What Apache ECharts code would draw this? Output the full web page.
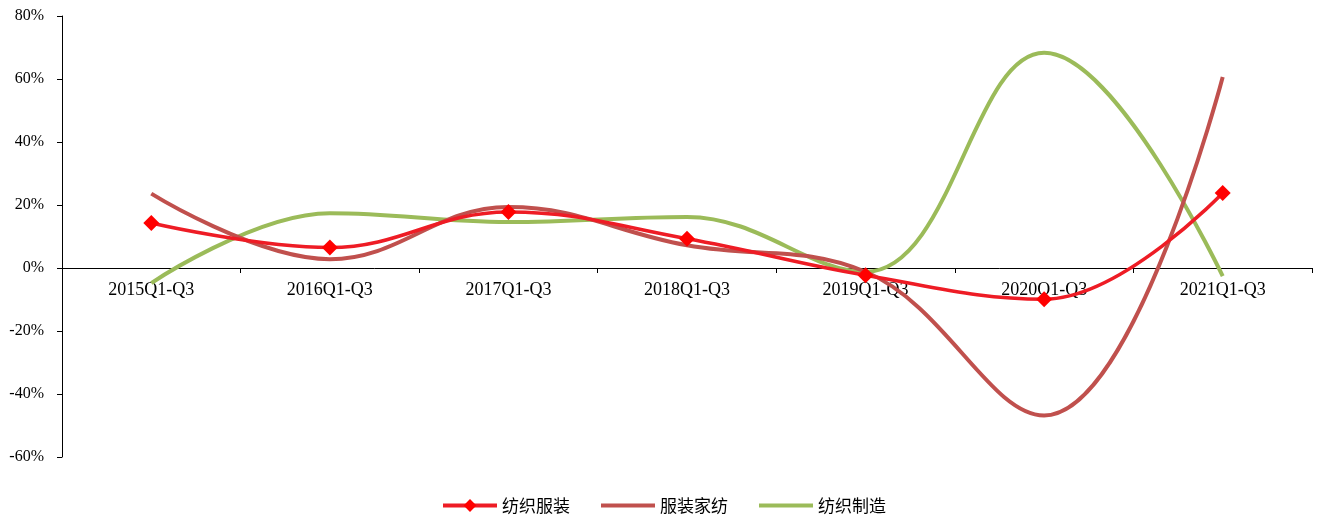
<!DOCTYPE html>
<html>
<head>
<meta charset="utf-8">
<script src="https://cdn.jsdelivr.net/npm/echarts@6/dist/echarts.min.js"></script>
<style>
  html, body { margin: 0; padding: 0; background: #ffffff; }
  #chart { width: 1327px; height: 516px; }
</style>
</head>
<body>
<div id="chart"></div>
<script>
// Periods on the category axis
const periods = ['2015Q1-Q3', '2016Q1-Q3', '2017Q1-Q3', '2018Q1-Q3', '2019Q1-Q3', '2020Q1-Q3', '2021Q1-Q3'];

// Growth rates, percent
const textileApparel = [14.3, 6.5, 17.8, 9.3, -2.3, -9.9, 23.8];
const apparelHomeTextile = [23.6, 2.8, 19.4, 7.2, -1.2, -46.8, 60.6];
const textileManufacturing = [-4.8, 17.4, 14.6, 16.2, -1.2, 68.3, -2.6];

// Y axis range and step
const yMin = -60, yMax = 80, yStep = 20;

const gridTop = 16, gridBottom = 59, chartHeight = 516;
const plotHeight = chartHeight - gridTop - gridBottom;
// Lift the category axis (line, ticks and labels) up to the zero line
const zeroOffset = -plotHeight * (0 - yMin) / (yMax - yMin);

const chart = echarts.init(document.getElementById('chart'));

const serifFont = '"Liberation Serif", "Times New Roman", serif';
const legendFont = '"Noto Sans CJK SC", sans-serif';

chart.setOption({
  animation: false,
  backgroundColor: '#ffffff',
  grid: { left: 62, right: 15, top: gridTop, bottom: gridBottom, containLabel: false },
  legend: {
    bottom: -3,
    left: 'center',
    itemWidth: 54,
    itemHeight: 16,
    itemGap: 29,
    lineStyle: { width: 4 },
    textStyle: { fontFamily: legendFont, fontSize: 17, color: '#000' },
    data: [
      { name: '纺织服装' },
      { name: '服装家纺', itemStyle: { opacity: 0 } },
      { name: '纺织制造', itemStyle: { opacity: 0 } }
    ]
  },
  xAxis: {
    type: 'category',
    data: periods,
    boundaryGap: true,
    position: 'bottom',
    offset: zeroOffset,
    axisLine: { onZero: false, lineStyle: { color: '#000', width: 1 } },
    axisTick: { show: true, inside: false, length: 5, alignWithLabel: false, lineStyle: { color: '#000' } },
    axisLabel: { color: '#000', fontFamily: serifFont, fontSize: 18, margin: 13 },
    splitLine: { show: false }
  },
  yAxis: {
    type: 'value',
    min: yMin,
    max: yMax,
    interval: yStep,
    axisLine: { show: true, lineStyle: { color: '#000', width: 1 } },
    axisTick: { show: true, inside: false, length: 5, lineStyle: { color: '#000' } },
    axisLabel: { color: '#000', fontFamily: serifFont, fontSize: 16, margin: 18, formatter: '{value}%' },
    splitLine: { show: false }
  },
  series: [
    {
      name: '纺织服装',
      type: 'line',
      data: textileApparel,
      smooth: 0.4,
      symbol: 'diamond',
      symbolSize: 16,
      itemStyle: { color: '#ff0000' },
      lineStyle: { color: '#ee1c25', width: 3.5 },
      z: 4
    },
    {
      name: '服装家纺',
      type: 'line',
      data: apparelHomeTextile,
      smooth: 0.4,
      symbol: 'none',
      itemStyle: { color: '#c0504d' },
      lineStyle: { color: '#c0504d', width: 4 },
      z: 3
    },
    {
      name: '纺织制造',
      type: 'line',
      data: textileManufacturing,
      smooth: 0.4,
      symbol: 'none',
      itemStyle: { color: '#9bbb59' },
      lineStyle: { color: '#9bbb59', width: 4 },
      z: 2
    }
  ]
});
</script>
</body>
</html>
